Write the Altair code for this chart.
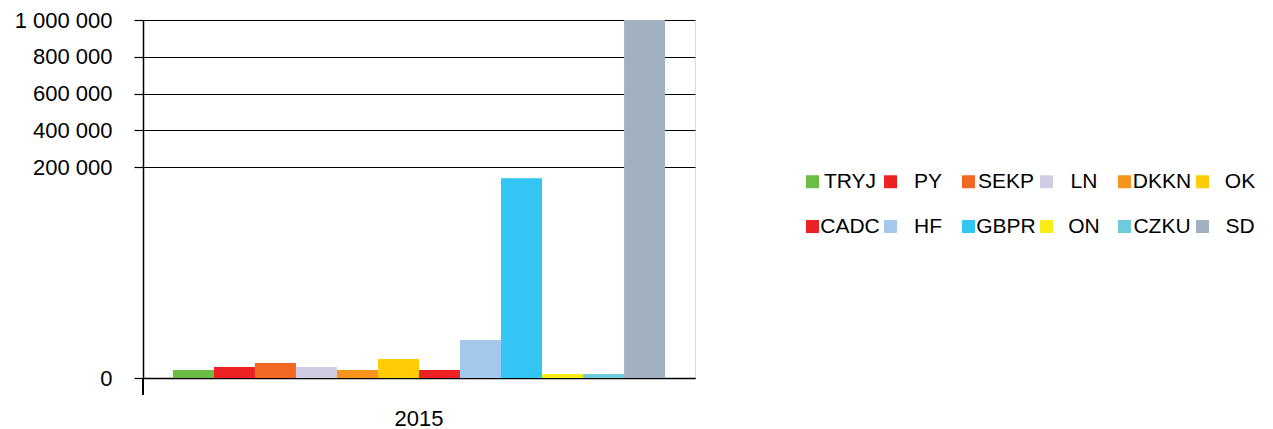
import altair as alt
import pandas as pd

series = ["TRYJ", "PY", "SEKP", "LN", "DKKN", "OK",
          "CADC", "HF", "GBPR", "ON", "CZKU", "SD"]
values = [7600, 10400, 14200, 10400, 7600, 18000,
          7600, 36000, 189300, 3800, 3800, 1000000]
colors = ["#6abd45", "#ed2224", "#f26722", "#cfcce3", "#f7941d", "#ffcc05",
          "#ed2224", "#a3c8ec", "#33c5f3", "#f8ed17", "#6dcbdb", "#a2b1c2"]
years = ["2015"] * len(series)
y_ticks = [0, 200000, 400000, 600000, 800000, 1000000]

df = pd.DataFrame({"year": years, "series": series, "value": values})

W, H = 552, 358
FONT = "Liberation Sans"

bars = alt.Chart(df).mark_bar(opacity=1).encode(
    x=alt.X("year:N", title=None,
            scale=alt.Scale(paddingInner=0, paddingOuter=0),
            axis=alt.Axis(labelAngle=0, ticks=False, domain=True, domainColor="black",
                          domainWidth=1.5, labelFontSize=22, labelFont=FONT,
                          labelColor="black", labelPadding=30, grid=False)),
    xOffset=alt.XOffset("series:N", sort=series,
                        scale=alt.Scale(paddingInner=0, paddingOuter=0.73)),
    y=alt.Y("value:Q", title=None,
            scale=alt.Scale(domain=[0, 200000, 1000000], range=[H, 147, 0]),
            axis=alt.Axis(values=y_ticks, grid=True, gridColor="black", gridOpacity=1,
                          gridWidth=1.2, tickSize=9, tickColor="black", tickWidth=1.2,
                          domainColor="black", domainWidth=1.5,
                          labelFontSize=22, labelFont=FONT, labelColor="black",
                          labelPadding=22,
                          labelExpr="replace(replace(format(datum.value, ','), ',', ' '), ',', ' ')")),
    color=alt.Color("series:N", sort=series,
                    scale=alt.Scale(domain=series, range=colors),
                    legend=alt.Legend(orient="none", legendX=659, legendY=151,
                                      direction="horizontal", gridAlign="all",
                                      title=None, columns=6, symbolType="square",
                                      symbolSize=169, symbolStrokeWidth=0,
                                      symbolOpacity=1,
                                      labelFontSize=21, labelFont=FONT, labelColor="black",
                                      labelAlign="center", labelOffset=27,
                                      columnPadding=-6, rowPadding=23,
                                      labelLimit=200)),
)

tick = alt.Chart(df).mark_rule(color="black", strokeWidth=1.5).encode(
    x=alt.value(0), y=alt.value(H), y2=alt.value(H + 17)
)

chart = alt.layer(bars, tick).properties(
    width=W, height=H,
    autosize=alt.AutoSizeParams(type="none"),
    padding={"left": 143, "top": 20, "right": 1273 - 143 - W, "bottom": 429 - 20 - H},
).configure_view(stroke=None).configure(background="white")

chart.save("out.html", embed_options={"renderer": "svg", "actions": False})
